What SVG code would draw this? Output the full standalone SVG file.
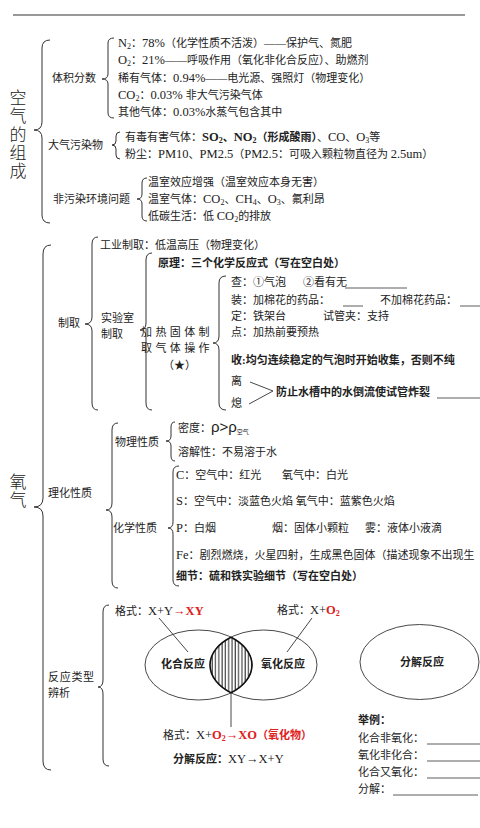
<svg xmlns="http://www.w3.org/2000/svg" width="480" height="828" viewBox="0 0 480 828">
<style>
.t{font-family:"Liberation Serif","Noto Sans CJK SC",serif;font-size:11px;fill:#222}
.b{font-weight:bold}
.r{fill:#e0201b}
.s{font-size:8px}
.L{font-size:12.5px}
.big{font-family:"Noto Sans CJK SC",sans-serif;font-size:17px;font-weight:300;fill:#222;writing-mode:vertical-rl;letter-spacing:1.3px}
.br{fill:none;stroke:#333;stroke-width:1}
.ln{fill:none;stroke:#333;stroke-width:0.9}
.ul{stroke:#333;stroke-width:0.8}
</style>
<defs>
<pattern id="hatch" width="3.3" height="10" patternUnits="userSpaceOnUse">
<rect width="3.3" height="10" fill="#fff"/>
<line x1="1" y1="0" x2="1" y2="10" stroke="#222" stroke-width="1"/>
</pattern>
</defs>
<rect width="480" height="828" fill="#fff"/>
<line x1="13" y1="15" x2="465" y2="15" stroke="#333" stroke-width="1"/>

<g id="connectors">
<path class="br" d="M50 40 Q42 40 42 48 L42 122 Q42 130 34 130 Q42 130 42 138 L42 215 Q42 223 50 223"/>
<path class="br" d="M114 38 Q108 38 108 43 L108 74 Q108 79 102 79 Q108 79 108 84 L108 113 Q108 118 114 118"/>
<path class="br" d="M120 132 Q116 132 116 136 L116 141 Q116 145 112 145 Q116 145 116 149 L116 155 Q116 159 120 159"/>
<path class="br" d="M147 178 Q142 178 142 183 L142 194 Q142 199 137 199 Q142 199 142 204 L142 216 Q142 221 147 221"/>
<path class="br" d="M51 245 Q43 245 43 254 L43 498 Q43 507 34 507 Q43 507 43 516 L43 761 Q43 770 51 770"/>
<path class="br" d="M98 237 Q92 237 92 244 L92 317 Q92 324 85 324 Q92 324 92 331 L92 403 Q92 410 98 410"/>
<path class="br" d="M152 253 Q146 253 146 260 L146 323 Q146 330 140 330 Q146 330 146 337 L146 403 Q146 410 152 410"/>
<path class="br" d="M226 276 Q219 276 219 283 L219 336 Q219 343 213 343 Q219 343 219 350 L219 403 Q219 410 226 410"/>
<path class="br" d="M118 423 Q112 423 112 430 L112 503 Q112 510 106 510 Q112 510 112 517 L112 581 Q112 588 118 588"/>
<path class="br" d="M175 422 Q171 422 171 427 L171 436 Q171 441 166 441 Q171 441 171 446 L171 456 Q171 461 175 461"/>
<path class="br" d="M179 466 Q173 466 173 472 L173 522 Q173 528 168 528 Q173 528 173 534 L173 580 Q173 586 179 586"/>
<path class="br" d="M109 605 Q103 605 103 612 L103 680 Q103 687 98 687 Q103 687 103 694 L103 759 Q103 766 109 766"/>
<path class="ln" d="M250 382 L273 391 L249 404"/>
<line class="ln" x1="159" y1="618" x2="188" y2="652"/>
<line class="ln" x1="312" y1="618" x2="287" y2="652"/>
<line class="ln" x1="231" y1="667" x2="231" y2="727"/>
</g>

<g id="air-title"><text class="big" x="18" y="89">空气的组成</text></g>

<g id="volume">
<text class="t" x="52" y="82">体积分数</text>
<text class="t" x="118" y="47"><tspan class="L">N</tspan><tspan class="s" dy="2">2</tspan><tspan dy="-2">：</tspan><tspan class="L">78%</tspan>（化学性质不活泼）——保护气、氮肥</text>
<text class="t" x="118" y="64"><tspan class="L">O</tspan><tspan class="s" dy="2">2</tspan><tspan dy="-2">：</tspan><tspan class="L">21%</tspan>——呼吸作用（氧化非化合反应）、助燃剂</text>
<text class="t" x="118" y="82">稀有气体：<tspan class="L">0.94%</tspan>——电光源、强照灯（物理变化）</text>
<text class="t" x="118" y="99"><tspan class="L">CO</tspan><tspan class="s" dy="2">2</tspan><tspan dy="-2">：</tspan><tspan class="L">0.03% </tspan>非大气污染气体</text>
<text class="t" x="118" y="116">其他气体：<tspan class="L">0.03%</tspan>水蒸气包含其中</text>
</g>

<g id="pollutants">
<text class="t" x="48" y="149">大气污染物</text>
<text class="t" x="125" y="141">有毒有害气体：<tspan class="b"><tspan class="L">SO</tspan><tspan class="s" dy="2">2</tspan><tspan dy="-2">、</tspan><tspan class="L">NO</tspan><tspan class="s" dy="2">2</tspan><tspan dy="-2">（形成酸雨）</tspan></tspan>、<tspan class="L">CO</tspan>、<tspan class="L">O</tspan><tspan class="s" dy="2">3</tspan><tspan dy="-2">等</tspan></text>
<text class="t" x="125" y="158">粉尘：<tspan class="L">PM10</tspan>、<tspan class="L">PM2.5</tspan>（<tspan class="L">PM2.5</tspan>：可吸入颗粒物直径为 <tspan class="L">2.5um</tspan>）</text>
</g>

<g id="env">
<text class="t" x="53" y="203">非污染环境问题</text>
<text class="t" x="148" y="186">温室效应增强（温室效应本身无害）</text>
<text class="t" x="148" y="203">温室气体：<tspan class="L">CO</tspan><tspan class="s" dy="2">2</tspan><tspan dy="-2">、</tspan><tspan class="L">CH</tspan><tspan class="s" dy="2">4</tspan><tspan dy="-2">、</tspan><tspan class="L">O</tspan><tspan class="s" dy="2">3</tspan><tspan dy="-2">、氟利昂</tspan></text>
<text class="t" x="148" y="220">低碳生活：低 <tspan class="L">CO</tspan><tspan class="s" dy="2">2</tspan><tspan dy="-2">的排放</tspan></text>
</g>

<g id="oxygen-title"><text class="big" x="18" y="473">氧气</text></g>

<g id="prep">
<text class="t" x="58" y="327">制取</text>
<text class="t" x="100" y="249">工业制取：低温高压（物理变化）</text>
<text class="t" x="101" y="322">实验室</text>
<text class="t" x="101" y="338">制取</text>
<text class="t b" x="158" y="267">原理：三个化学反应式（写在空白处）</text>
<text class="t" x="141" y="336" letter-spacing="3.4">加热固体制</text>
<text class="t" x="141" y="352" letter-spacing="3.4">取气体操作</text>
<text class="t" x="163" y="369">（★）</text>
</g>

<g id="steps">
<text class="t" x="231" y="286">查：①气泡</text>
<text class="t" x="303" y="286">②看有无</text>
<line class="ul" x1="345" y1="288" x2="407" y2="288"/>
<text class="t" x="231" y="304">装：加棉花的药品：</text>
<line class="ul" x1="343" y1="306" x2="363" y2="306"/>
<text class="t" x="380" y="304">不加棉花药品：</text>
<line class="ul" x1="460" y1="306" x2="480" y2="306"/>
<text class="t" x="231" y="320">定：铁架台</text>
<text class="t" x="323" y="320">试管夹：支持</text>
<text class="t" x="231" y="336">点：加热前要预热</text>
<text class="t b" x="231" y="364">收:均匀连续稳定的气泡时开始收集，否则不纯</text>
<text class="t" x="231" y="385">离</text>
<text class="t" x="231" y="407">熄</text>
<text class="t b" x="276" y="396">防止水槽中的水倒流使试管炸裂</text>
<line class="ul" x1="437" y1="398" x2="480" y2="398"/>
</g>

<g id="phys">
<text class="t" x="48" y="497">理化性质</text>
<text class="t" x="115" y="446">物理性质</text>
<text class="t" x="178" y="432">密度：<tspan font-family="Liberation Sans" font-size="15">ρ&gt;ρ</tspan><tspan font-size="6" dy="2">空气</tspan></text>
<text class="t" x="178" y="456">溶解性：不易溶于水</text>
</g>

<g id="chem">
<text class="t" x="113" y="532">化学性质</text>
<text class="t" x="176" y="479"><tspan class="L">C</tspan>：空气中：红光</text>
<text class="t" x="282" y="479">氧气中：白光</text>
<text class="t" x="176" y="505"><tspan class="L">S</tspan>：空气中：淡蓝色火焰 氧气中：蓝紫色火焰</text>
<text class="t" x="176" y="532"><tspan class="L">P</tspan>：白烟</text>
<text class="t" x="272" y="532">烟：固体小颗粒</text>
<text class="t" x="365" y="532">雾：液体小液滴</text>
<text class="t" x="176" y="559"><tspan class="L">Fe</tspan>：剧烈燃烧，火星四射，生成黑色固体（描述现象不出现生</text>
<text class="t b" x="176" y="580">细节：硫和铁实验细节（写在空白处）</text>
</g>

<g id="reactions">
<text class="t" x="48" y="681" letter-spacing="0.7">反应类型</text>
<text class="t" x="48" y="697">辨析</text>
<text class="t" x="115" y="615">格式：<tspan class="L">X+Y</tspan><tspan class="r b L">→XY</tspan></text>
<text class="t" x="277" y="614">格式：<tspan class="L">X+</tspan><tspan class="r b"><tspan class="L">O</tspan><tspan class="s" dy="2">2</tspan></tspan></text>
<ellipse class="ln" cx="198.5" cy="665" rx="53.5" ry="35"/>
<ellipse class="ln" cx="263.5" cy="665" rx="53.5" ry="35"/>
<ellipse class="ln" cx="419.5" cy="662" rx="59.5" ry="37.5"/>
<path d="M231 637.2 A53.5 35 0 0 1 231 692.8 A53.5 35 0 0 1 231 637.2 Z" fill="url(#hatch)" stroke="#111" stroke-width="1.6"/>
<text class="t b" x="183" y="668" text-anchor="middle">化合反应</text>
<text class="t b" x="283" y="668" text-anchor="middle">氧化反应</text>
<text class="t b" x="422" y="666" text-anchor="middle">分解反应</text>
<text class="t" x="163" y="739">格式：<tspan class="L">X+</tspan><tspan class="r b"><tspan class="L">O</tspan><tspan class="s" dy="2">2</tspan><tspan dy="-2"><tspan class="L">→XO</tspan>（氧化物）</tspan></tspan></text>
<text class="t" x="173" y="763"><tspan class="b">分解反应：</tspan><tspan class="L">XY→X+Y</tspan></text>
</g>

<g id="examples">
<text class="t b" x="358" y="724">举例：</text>
<text class="t" x="358" y="742">化合非氧化：</text>
<line class="ul" x1="427" y1="744" x2="480" y2="744"/>
<text class="t" x="358" y="759">氧化非化合：</text>
<line class="ul" x1="427" y1="761" x2="480" y2="761"/>
<text class="t" x="358" y="776">化合又氧化：</text>
<line class="ul" x1="427" y1="778" x2="480" y2="778"/>
<text class="t" x="358" y="793">分解：</text>
<line class="ul" x1="393" y1="795" x2="478" y2="795"/>
</g>
</svg>
